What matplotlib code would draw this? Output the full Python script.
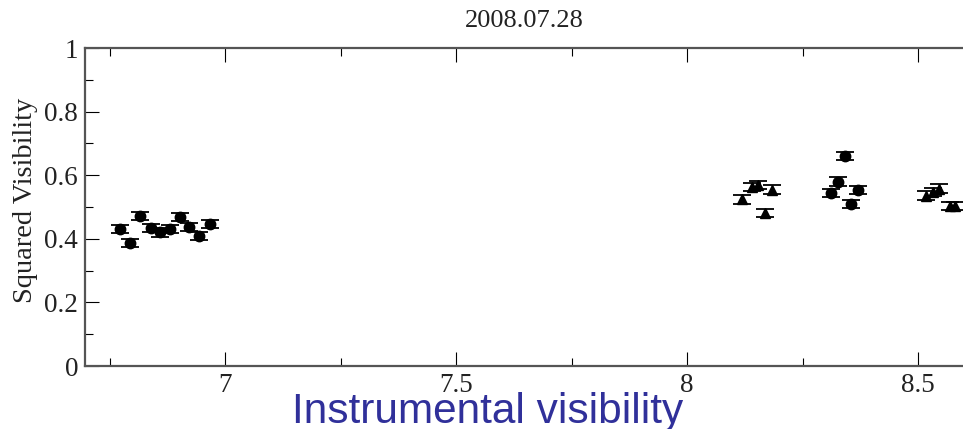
import matplotlib
matplotlib.use("Agg")
import matplotlib.pyplot as plt
from matplotlib.ticker import MultipleLocator

# Data: circles (first epoch)
x_circ1 = [6.773, 6.794, 6.816, 6.839, 6.860, 6.881, 6.903, 6.923, 6.944, 6.968]
y_circ1 = [0.431, 0.386, 0.472, 0.433, 0.420, 0.430, 0.468, 0.438, 0.409, 0.446]
# triangles (second epoch)
x_tri1 = [8.119, 8.141, 8.154, 8.169, 8.183]
y_tri1 = [0.524, 0.564, 0.569, 0.482, 0.555]
# circles (third epoch)
x_circ2 = [8.312, 8.326, 8.341, 8.356, 8.371]
y_circ2 = [0.545, 0.580, 0.661, 0.509, 0.553]
# triangles (fourth epoch)
x_tri2 = [8.517, 8.533, 8.546, 8.569, 8.580]
y_tri2 = [0.536, 0.548, 0.558, 0.504, 0.504]
yerr_val = 0.013

title_text = "2008.07.28"
ylabel_text = "Squared Visibility"
note_text = "Instrumental visibility"

W, H = 963, 429
fig = plt.figure(figsize=(W / 100, H / 100), dpi=100)
ax = fig.add_axes([85 / W, 1 - 366 / H, (W - 85) / W, (366 - 48) / H])

serif = "Liberation Serif"
ekw = dict(color="black", ecolor="black", elinewidth=1.0, capsize=6.5,
           capthick=1.3, linestyle="none", markersize=7.5)
ax.errorbar(x_circ1, y_circ1, yerr=[yerr_val] * len(x_circ1), marker="o", **ekw)
ax.errorbar(x_tri1, y_tri1, yerr=[yerr_val] * len(x_tri1), marker="^", **ekw)
ax.errorbar(x_circ2, y_circ2, yerr=[yerr_val] * len(x_circ2), marker="o", **ekw)
ax.errorbar(x_tri2, y_tri2, yerr=[yerr_val] * len(x_tri2), marker="^", **ekw)

ax.set_xlim(7 - (225 - 85) / 462, 7 + (W - 225) / 462)
ax.set_ylim(0, 1)
ax.xaxis.set_minor_locator(MultipleLocator(0.25))
ax.yaxis.set_minor_locator(MultipleLocator(0.1))
ax.set_xticks([7, 7.5, 8, 8.5])
ax.set_xticklabels(["7", "7.5", "8", "8.5"])
ax.set_yticks([0, 0.2, 0.4, 0.6, 0.8, 1.0])
ax.set_yticklabels(["0", "0.2", "0.4", "0.6", "0.8", "1"])

ax.tick_params(which="both", direction="in", color="black", width=0.8,
               top=True, right=False, labelsize=19.5)
ax.tick_params(which="major", length=10)
ax.tick_params(which="minor", length=5.5)
ax.tick_params(axis="x", which="major", pad=5)
ax.tick_params(axis="y", which="major", pad=5)
for lab in ax.get_xticklabels() + ax.get_yticklabels():
    lab.set_fontfamily(serif)
    lab.set_color("#222222")

for s in ["left", "bottom", "top"]:
    ax.spines[s].set_color("#555555")
    ax.spines[s].set_linewidth(1.6)
ax.spines["right"].set_visible(False)

fig.text(524 / W, 1 - 21 / H, title_text, ha="center", va="center",
         fontsize=19, family=serif, color="#222222")
fig.text(25 / W, 1 - 200 / H, ylabel_text, ha="center", va="center",
         rotation=90, fontsize=20.5, family=serif, color="#222222")
fig.text(292 / W, 1 - 423 / H, note_text, ha="left", va="baseline",
         fontsize=30.5, family="Liberation Sans", color="#30309a")

fig.savefig("out.png", dpi=100)
